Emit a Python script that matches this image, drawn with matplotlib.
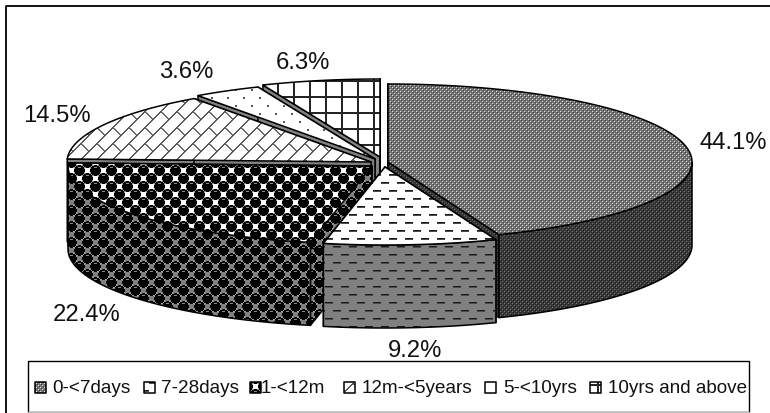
import numpy as np
import matplotlib
matplotlib.use('Agg')
import matplotlib.pyplot as plt
from matplotlib.patches import Polygon, Rectangle

plt.rcParams['font.family'] = ['Liberation Sans', 'DejaVu Sans']

categories = ['0-<7days', '7-28days', '1-<12m', '12m-<5years', '5-<10yrs', '10yrs and above']
values = [44.1, 9.2, 22.4, 14.5, 3.6, 6.3]
value_labels = ['44.1%', '9.2%', '22.4%', '14.5%', '3.6%', '6.3%']

# layout, in pixels of the 770x414 picture
W, H = 770, 414
RX, RY, DEPTH = 304, 78, 83
apex_x = [388, 385, 372, 371, 375, 380]
apex_y = [163, 168, 167, 163, 160, 158]
label_x = [733, 415, 87, 57, 186, 303]
label_y = [143, 351, 315, 116, 72, 63]
swatch_x = [35, 144, 250, 344, 485, 590]
legend_text_x = [52, 161, 261, 362, 503, 608]
draw_order = [5, 4, 3, 2, 0, 1]


def tile_dots(bg, light, dark):
    t = np.full((4, 4), bg)
    t[0, 0] = t[2, 2] = light
    t[1, 1] = t[3, 3] = dark
    return t


def tile_dashes(bg):
    t = np.full((16, 16), bg)
    for y, x0 in [(15, 5), (7, 13)]:
        for i in range(8):
            t[y, (x0 + i) % 16] = 0.1
            t[(y + 1) % 16, (x0 + i) % 16] = 0.3
    return t


def tile_balls(bg):
    t = np.full((16, 16), bg)
    yy, xx = np.mgrid[0:16, 0:16]
    dists = []
    for cx, cy in [(7, 3), (15, 11)]:
        dx = (xx - cx + 8) % 16 - 8
        dy = (yy - cy + 8) % 16 - 8
        dists.append((np.hypot(dx, dy), dx, dy))
    for d, dx, dy in dists:
        t[(d >= 5.2) & (d < 6.0)] = 0.6
    for d, dx, dy in dists:
        t[d < 5.2] = 0.0
        t[(dy == -3) & (abs(dx) <= 1)] = 0.55
    return t


def tile_bricks(bg):
    yy, xx = np.mgrid[0:32, 0:32]
    row = (xx + yy) // 16
    t = np.full((32, 32), bg)
    t[((xx - yy + 16 * row) % 32 < 2)] = 0.4
    t[(xx + yy) % 16 < 2] = 0.35
    return t


def tile_sparse(bg):
    t = np.full((16, 16), bg)
    for x, y in [(3, 2), (11, 10)]:
        t[y:y + 2, x:x + 2] = 0.35
    return t


def tile_grid(bg):
    t = np.full((16, 16), bg)
    t[:, 5:7] = 0.15
    t[1:3, :] = 0.15
    return t


top_tiles = [tile_dots(0.45, 0.9, 0.25), tile_dashes(1.0), tile_balls(1.0),
             tile_bricks(1.0), tile_sparse(1.0), tile_grid(1.0)]
wall_tiles = [tile_dots(0.22, 0.45, 0.12), tile_dashes(0.5), tile_balls(0.5),
              np.full((4, 4), 0.5), np.full((4, 4), 0.5), np.full((4, 4), 0.5)]

fig = plt.figure(figsize=(W / 100, H / 100), dpi=100)
ax = fig.add_axes([0, 0, 1, 1])


def face(points, tile, z):
    # textured polygon: the tile is repeated over the picture and clipped
    poly = Polygon(points, closed=True, facecolor='none', edgecolor='black', lw=1.1,
                   joinstyle='round', zorder=z + 0.5)
    ax.add_patch(poly)
    reps = (H // tile.shape[0] + 1, W // tile.shape[1] + 1)
    img = np.tile(tile, reps)[:H, :W]
    im = ax.imshow(img, cmap='gray', vmin=0, vmax=1, extent=(0, W, H, 0),
                   interpolation='nearest', zorder=z, aspect='auto')
    im.set_clip_path(poly)


fractions = np.array(values) / sum(values)
edges = np.concatenate([[0], np.cumsum(fractions)]) * 2 * np.pi

z = 1
for i in draw_order:
    ang = np.linspace(edges[i], edges[i + 1], 80)
    arc = np.column_stack([apex_x[i] + RX * np.sin(ang), apex_y[i] - RY * np.cos(ang)])
    apex = np.array([apex_x[i], apex_y[i]])
    drop = np.array([0, DEPTH])
    # radial walls and rim first, top face over them
    for corner in (arc[0], arc[-1]):
        face([apex, corner, corner + drop, apex + drop], wall_tiles[i], z)
        z += 1
    # only the front half of the rim can be seen
    lo = max(edges[i], np.pi / 2)
    hi = min(edges[i + 1], 3 * np.pi / 2)
    if hi > lo:
        front = np.linspace(lo, hi, 80)
        rim = np.column_stack([apex_x[i] + RX * np.sin(front), apex_y[i] - RY * np.cos(front)])
        face(np.vstack([rim, (rim + drop)[::-1]]), wall_tiles[i], z)
        z += 1
    face(np.vstack([apex, arc]), top_tiles[i], z)
    z += 1

for i in range(len(values)):
    ax.text(label_x[i], label_y[i], value_labels[i], fontsize=17.2, ha='center', va='center',
            color='#111111', zorder=z + 1)

# legend box
ax.add_patch(Rectangle((28, 362), 721, 51, facecolor='white', edgecolor='black', lw=1.0, zorder=z + 2))
ax.plot([28, 749], [413, 413], color='#bbbbbb', lw=1.0, zorder=z + 3)
z += 4
for i in range(len(categories)):
    x0 = swatch_x[i]
    face([(x0, 383), (x0 + 11, 383), (x0 + 11, 394), (x0, 394)], top_tiles[i], z)
    z += 1
    ax.text(legend_text_x[i], 389, categories[i], fontsize=13.6, ha='left', va='center',
            color='#111111', zorder=z)

# outer frame, runs off the right and bottom of the picture
ax.plot([5.5, 5.5, W + 5], [H + 5, 6.5, 6.5], color='black', lw=1.3, zorder=z)

ax.set_xlim(0, W)
ax.set_ylim(H, 0)
ax.axis('off')
fig.savefig('out.png', dpi=100, facecolor='white')
